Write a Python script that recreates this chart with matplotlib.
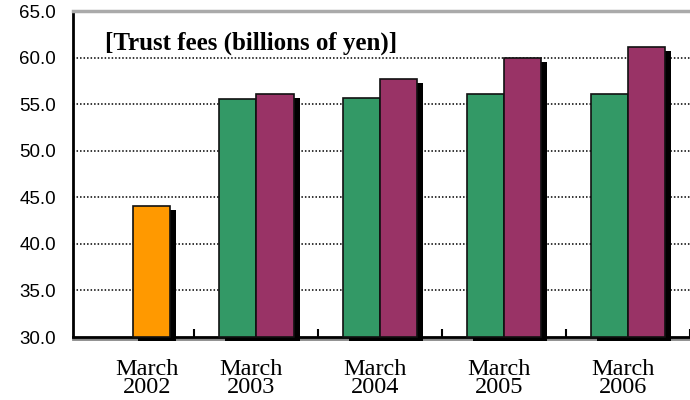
import matplotlib
matplotlib.use("Agg")
import matplotlib.pyplot as plt
import matplotlib.patheffects as pe
import numpy as np

categories = ["March\n2002", "March\n2003", "March\n2004", "March\n2005", "March\n2006"]
series_green = [np.nan, 55.5, 55.7, 56.1, 56.1]
series_purple = [np.nan, 56.1, 57.7, 60.0, 61.1]
series_orange = [44.1, np.nan, np.nan, np.nan, np.nan]
yticks = [30.0, 35.0, 40.0, 45.0, 50.0, 55.0, 60.0, 65.0]
title = "[Trust fees (billions of yen)]"

GREEN = "#339966"
PURPLE = "#993366"
ORANGE = "#FF9900"

fig = plt.figure(figsize=(6.9, 4.0), dpi=100)
W, H = 690, 400
ax_left, ax_right, ax_top, ax_bot = 72.7, 700, 11, 337
ax = fig.add_axes([ax_left / W, (H - ax_bot) / H, (ax_right - ax_left) / W, (ax_bot - ax_top) / H])

spacing = 123.9
x0 = -(132.5 - ax_left) / spacing
x1 = x0 + (ax_right - ax_left) / spacing
ax.set_xlim(x0, x1)
ax.set_ylim(30, 65)

x = np.arange(len(categories))
bw = 0.3
shadow = [pe.SimplePatchShadow(offset=(4.3, -2.9), shadow_rgbFace="black", alpha=1.0), pe.Normal()]

kw = dict(width=bw, align="edge", edgecolor="#111111", linewidth=1.2, clip_on=False, zorder=3)
g = ax.bar(x - bw, np.array(series_green) - 30, bottom=30, color=GREEN, **kw)
p = ax.bar(x, np.array(series_purple) - 30, bottom=30, color=PURPLE, **kw)
o = ax.bar(x, np.array(series_orange) - 30, bottom=30, color=ORANGE, **kw)
for cont in (g, p, o):
    for r in cont:
        r.set_path_effects(shadow)

# gridlines
for yv in yticks[1:-1]:
    ax.axhline(yv, color="black", linestyle=(0, (1.0, 1.3)), linewidth=1.1, zorder=1)

# y axis
ax.set_yticks(yticks)
ax.set_yticklabels([f"{v:.1f}" for v in yticks], family="Liberation Sans", fontsize=13.5)
ax.tick_params(axis="y", length=0, pad=12)

# x ticks between groups
ax.set_xticks(np.arange(len(categories)) + 0.5)
ax.set_xticklabels([])
ax.tick_params(axis="x", which="major", direction="in", length=6, width=1.5, color="black")

label_pos = [0.12] + [i - 0.04 for i in range(1, len(categories))]
ax.set_xticks(label_pos, minor=True)
ax.set_xticklabels(categories, minor=True, family="Liberation Serif", fontsize=17.5, linespacing=0.82)
ax.tick_params(axis="x", which="minor", length=0, pad=16)

for s in ("right",):
    ax.spines[s].set_visible(False)
ax.spines["left"].set_linewidth(2)
ax.spines["left"].set_color("black")
ax.spines["bottom"].set_linewidth(2)
ax.spines["bottom"].set_color("black")
ax.spines["bottom"].set_path_effects([pe.SimpleLineShadow(offset=(0, -1.5), shadow_color="#888888", alpha=1.0), pe.Normal()])
ax.spines["top"].set_linewidth(2.5)
ax.spines["top"].set_color("#aaaaaa")

ax.text((105 - ax_left) / (ax_right - ax_left), (ax_bot - 49.5) / (ax_bot - ax_top), title,
        transform=ax.transAxes, family="Liberation Serif", fontweight="bold", fontsize=18,
        ha="left", va="baseline")

fig.savefig("out.png", dpi=100)
